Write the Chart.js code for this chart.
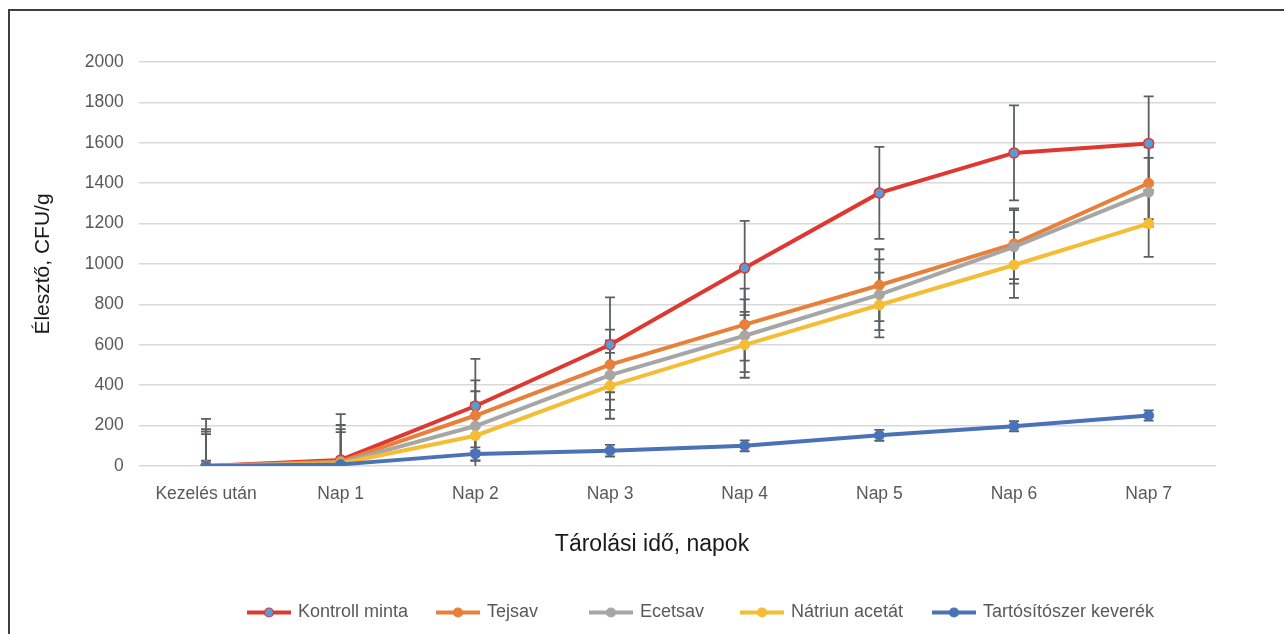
<!DOCTYPE html>
<html><head><meta charset="utf-8">
<script src="https://cdn.jsdelivr.net/npm/chart.js@4.4.1/dist/chart.umd.min.js"></script>
<style>
html,body{margin:0;padding:0;background:#fff;overflow:hidden}
#wrap{position:relative;width:1284px;height:634px}
#frame{position:absolute;left:8px;top:9px;width:1400px;height:700px;border:2px solid #3f3f3f;box-sizing:border-box}
canvas{position:absolute;left:0;top:0}
</style></head><body>
<div id="wrap"><div id="frame"></div><canvas id="c" width="1284" height="634"></canvas></div>
<script>
const categories = ['Kezelés után', 'Nap 1', 'Nap 2', 'Nap 3', 'Nap 4', 'Nap 5', 'Nap 6', 'Nap 7'];
const yTicks = [0, 200, 400, 600, 800, 1000, 1200, 1400, 1600, 1800, 2000];

const kontroll = [0, 30, 297, 600, 980, 1352, 1550, 1597];
const tejsav   = [0, 22, 250, 502, 700, 895, 1100, 1400];
const ecetsav  = [0, 17, 198, 450, 645, 848, 1085, 1355];
const natrium  = [0, 12, 150, 397, 600, 797, 995, 1200];
const keverek  = [0, 8, 60, 76, 100, 152, 197, 250];

const kontrollErr = [233, 227, 233, 235, 233, 228, 235, 233];
const tejsavErr   = [182, 181, 174, 173, 178, 178, 175, 178];
const ecetsavErr  = [170, 166, 172, 172, 180, 175, 182, 170];
const natriumErr  = [158, 156, 163, 163, 163, 160, 163, 165];
const keverekErr  = [26, 25, 32, 29, 27, 27, 25, 25];

const seriesNames = ['Kontroll minta', 'Tejsav', 'Ecetsav', 'Nátriun acetát', 'Tartósítószer keverék'];
const xTitle = 'Tárolási idő, napok';
const yTitle = 'Élesztő, CFU/g';

const FONT = "'Liberation Sans', Arial, Helvetica, sans-serif";

function mk(label, data, errors, color, order, ptFill) {
  return {
    label, data, errors, order,
    borderColor: color,
    backgroundColor: color,
    borderWidth: 4,
    pointRadius: 5,
    pointHoverRadius: 5,
    pointBackgroundColor: ptFill || color,
    pointBorderColor: color,
    pointBorderWidth: ptFill ? 1.5 : 1,
    tension: 0,
    fill: false
  };
}

const errorBars = {
  id: 'errorBars',
  beforeDatasetsDraw(chart) {
    const {ctx, chartArea} = chart;
    const ys = chart.scales.y;
    ctx.save();
    ctx.beginPath();
    ctx.rect(chartArea.left, chartArea.top - 20, chartArea.right - chartArea.left, chartArea.bottom - chartArea.top + 20);
    ctx.clip();
    ctx.strokeStyle = '#596062';
    ctx.lineWidth = 1.8;
    chart.data.datasets.forEach((ds, i) => {
      const meta = chart.getDatasetMeta(i);
      meta.data.forEach((pt, j) => {
        const v = ds.data[j], e = ds.errors[j];
        const x = pt.x;
        const yt = ys.getPixelForValue(v + e);
        const yb = ys.getPixelForValue(v - e);
        ctx.beginPath();
        ctx.moveTo(x, yt); ctx.lineTo(x, yb);
        ctx.moveTo(x - 5, yt); ctx.lineTo(x + 5, yt);
        ctx.moveTo(x - 5, yb); ctx.lineTo(x + 5, yb);
        ctx.stroke();
      });
    });
    ctx.restore();
  }
};

const legendX = [247, 436, 589, 740, 932];
const customLegend = {
  id: 'customLegend',
  afterDraw(chart) {
    const {ctx} = chart;
    const yc = 612.5;
    ctx.save();
    chart.data.datasets.forEach((ds, i) => {
      const x0 = legendX[i];
      ctx.strokeStyle = ds.borderColor;
      ctx.lineWidth = 4;
      ctx.beginPath();
      ctx.moveTo(x0, yc); ctx.lineTo(x0 + 44, yc);
      ctx.stroke();
      ctx.beginPath();
      ctx.arc(x0 + 22, yc, 4.5, 0, Math.PI * 2);
      ctx.fillStyle = ds.pointBackgroundColor;
      ctx.fill();
      ctx.lineWidth = 1.2;
      ctx.strokeStyle = ds.pointBorderColor;
      ctx.stroke();
      ctx.fillStyle = '#595959';
      ctx.font = '18px ' + FONT;
      ctx.textBaseline = 'middle';
      ctx.textAlign = 'left';
      ctx.fillText(ds.label, x0 + 51, yc);
    });
    // x-axis title, centred as in the original figure
    ctx.fillStyle = '#1a1a1a';
    ctx.font = '23px ' + FONT;
    ctx.textAlign = 'center';
    ctx.textBaseline = 'middle';
    ctx.fillText(xTitle, 652, 545);
    ctx.restore();
  }
};

new Chart(document.getElementById('c'), {
  type: 'line',
  data: {
    labels: categories,
    datasets: [
      mk(seriesNames[0], kontroll, kontrollErr, '#df3830', 4, '#5b9bd5'),
      mk(seriesNames[1], tejsav, tejsavErr, '#e8803a', 3),
      mk(seriesNames[2], ecetsav, ecetsavErr, '#a6a6a6', 2),
      mk(seriesNames[3], natrium, natriumErr, '#f4bd33', 1),
      mk(seriesNames[4], keverek, keverekErr, '#4a72b8', 0)
    ]
  },
  options: {
    responsive: false,
    animation: false,
    devicePixelRatio: 1,
    layout: {padding: {left: 0, right: 68, top: 62, bottom: 68}},
    plugins: {legend: {display: false}, tooltip: {enabled: false}},
    scales: {
      x: {
        type: 'category',
        offset: true,
        grid: {display: false},
        border: {display: false},
        ticks: {color: '#595959', font: {family: FONT, size: 17.5}, padding: 10, maxRotation: 0, autoSkip: false},
        title: {display: false},
        afterFit(s) { s.height = 100; }
      },
      y: {
        min: 0, max: 2000,
        afterBuildTicks(s) { s.ticks = yTicks.map(v => ({value: v})); },
        ticks: {color: '#595959', font: {family: FONT, size: 17.5}, padding: 15, callback: v => String(v)},
        grid: {color: '#d9d9d9', lineWidth: 1.5, drawTicks: false},
        border: {display: false},
        title: {display: true, text: yTitle, color: '#1a1a1a', font: {family: FONT, size: 21}, padding: {top: 31, bottom: 0}},
        afterFit(s) { s.width = 138.7; }
      }
    }
  },
  plugins: [errorBars, customLegend]
});
</script>
</body></html>
